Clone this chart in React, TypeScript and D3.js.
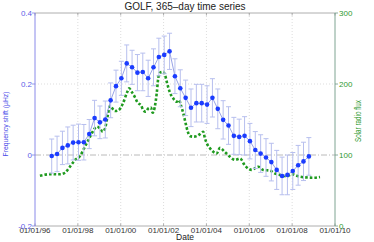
import React from 'react';
import * as d3 from 'd3';

// GOLF frequency shift, 365-day windows (decimal year of window centre)
const golfDates = [
  1996.78, 1997.03, 1997.28, 1997.53, 1997.78, 1998.03, 1998.28, 1998.53, 1998.78, 1999.03,
  1999.28, 1999.53, 1999.78, 2000.03, 2000.28, 2000.53, 2000.78, 2001.03, 2001.28, 2001.53,
  2001.78, 2002.03, 2002.28, 2002.53, 2002.78, 2003.03, 2003.28, 2003.53, 2003.78, 2004.03,
  2004.28, 2004.53, 2004.78, 2005.03, 2005.28, 2005.53, 2005.78, 2006.03, 2006.28, 2006.53,
  2006.78, 2007.03, 2007.28, 2007.53, 2007.78, 2008.03, 2008.28, 2008.53, 2008.78,
];
const freqShift = [
  -0.003, 0.003, 0.02, 0.027, 0.035, 0.036, 0.036, 0.059, 0.104, 0.092,
  0.1, 0.154, 0.194, 0.216, 0.258, 0.247, 0.232, 0.234, 0.216, 0.247,
  0.276, 0.282, 0.292, 0.222, 0.188, 0.161, 0.133, 0.146, 0.146, 0.142,
  0.161, 0.13, 0.099, 0.083, 0.054, 0.051, 0.054, 0.039, 0.014, 0.004,
  -0.007, -0.02, -0.042, -0.059, -0.056, -0.045, -0.029, -0.018, -0.004,
];
const freqErr = [
  0.048, 0.05, 0.047, 0.052, 0.049, 0.051, 0.05, 0.041, 0.05, 0.046,
  0.052, 0.049, 0.045, 0.048, 0.052, 0.048, 0.051, 0.053, 0.051, 0.052,
  0.053, 0.053, 0.051, 0.049, 0.052, 0.05, 0.053, 0.053, 0.053, 0.053,
  0.054, 0.056, 0.054, 0.053, 0.052, 0.05, 0.054, 0.05, 0.052, 0.053,
  0.053, 0.053, 0.055, 0.053, 0.056, 0.052, 0.056, 0.054, 0.053,
];

// solar radio flux (smoothed)
const fluxDates = [
  1996.23, 1996.70, 1997.17, 1997.40, 1997.63, 1997.87, 1998.10, 1998.33, 1998.49, 1998.69,
  1998.88, 1999.03, 1999.16, 1999.27, 1999.37, 1999.50, 1999.73, 1999.89, 2000.09, 2000.31,
  2000.39, 2000.51, 2000.67, 2000.79, 2000.95, 2001.05, 2001.17, 2001.29, 2001.41, 2001.49,
  2001.68, 2001.75, 2001.83, 2001.99, 2002.07, 2002.15, 2002.30, 2002.45, 2002.61, 2002.72,
  2002.81, 2002.92, 2003.03, 2003.13, 2003.23, 2003.39, 2003.55, 2003.70, 2003.85, 2003.93,
  2004.06, 2004.17, 2004.32, 2004.48, 2004.63, 2004.87, 2005.10, 2005.33, 2005.57, 2005.80,
  2006.11, 2006.42, 2006.65, 2006.97, 2007.20, 2007.43, 2007.75, 2007.98, 2008.29, 2008.60,
  2008.99, 2009.30,
];
const fluxValues = [
  70.8, 73, 72.8, 75, 83.5, 93, 98.6, 111.7, 121, 132.8,
  139.8, 137.5, 132.8, 137.5, 151.6, 169, 162, 163, 171.8, 189,
  193.8, 189, 181, 173.7, 170, 163, 161, 165.7, 167, 159.5,
  186.8, 208, 216, 217, 212.6, 203, 187.7, 179.8, 175, 177.4,
  170, 158.7, 144.6, 132.8, 126.7, 125.8, 126.7, 129.5, 132.8, 123.5,
  114, 109.4, 104.6, 102.3, 110, 104, 97.6, 93, 95, 85,
  79, 83.5, 79, 78, 74, 72, 70, 73, 70, 68.5,
  68, 69,
];

const xTickYears = [1996, 1998, 2000, 2002, 2004, 2006, 2008, 2010];
const leftTicks = [-0.2, 0, 0.2, 0.4];
const rightTicks = [0, 100, 200, 300];

const W = 374, H = 242;
const margin = { top: 13, right: 39, bottom: 16, left: 35 };
const font = 'Liberation Sans, Arial, Helvetica, sans-serif';

export default function App() {
  const x = d3.scaleLinear().domain([1996, 2010]).range([margin.left, W - margin.right]);
  const yL = d3.scaleLinear().domain([-0.2, 0.4]).range([H - margin.bottom, margin.top]);
  const yR = d3.scaleLinear().domain([0, 300]).range([H - margin.bottom, margin.top]);
  const x0 = margin.left, x1 = W - margin.right, y0 = margin.top, y1 = H - margin.bottom;

  const golf = golfDates.map((d, i) => ({ d, v: freqShift[i], e: freqErr[i] }));
  const flux = fluxDates.map((d, i) => ({ d, v: fluxValues[i] }));

  const golfLine = d3.line<any>().x(p => x(p.d)).y(p => yL(p.v));
  const fluxLine = d3.line<any>().x(p => x(p.d)).y(p => yR(p.v)).curve(d3.curveMonotoneX);

  const fmt = (yr: number) => '01/01/' + String(yr).slice(2);

  return (
    <svg width={W} height={H} style={{ position: 'absolute', left: 0, top: 0, background: '#fff' }}
      fontFamily={font}>
      {/* grid */}
      {xTickYears.slice(1, -1).map(t => (
        <line key={'gx' + t} x1={x(t)} x2={x(t)} y1={y0} y2={y1}
          stroke="#d4d4d4" strokeWidth={0.8} strokeDasharray="1,2" />
      ))}
      <line x1={x0} x2={x1} y1={yL(0.2)} y2={yL(0.2)} stroke="#d4d4d4" strokeWidth={0.8} strokeDasharray="1,2" />
      <line x1={x0} x2={x1} y1={yL(0)} y2={yL(0)} stroke="#a8a8a8" strokeWidth={0.8} strokeDasharray="6,2,1,2" />

      {/* box */}
      <line x1={x0} x2={x1} y1={y0} y2={y0} stroke="#9a9a9a" strokeWidth={0.8} />
      <line x1={x0} x2={x1} y1={y1} y2={y1} stroke="#9a9a9a" strokeWidth={0.8} />
      {xTickYears.map(t => (
        <g key={'tx' + t}>
          <line x1={x(t)} x2={x(t)} y1={y0} y2={y0 + 2.5} stroke="#9a9a9a" strokeWidth={0.8} />
          <line x1={x(t)} x2={x(t)} y1={y1} y2={y1 - 2.5} stroke="#9a9a9a" strokeWidth={0.8} />
          <text x={x(t)} y={y1 + 6.5} fontSize={8} fill="#333" textAnchor="middle">{fmt(t)}</text>
        </g>
      ))}

      {/* solar radio flux */}
      <path d={fluxLine(flux) || ''} fill="none" stroke="#1f9a1f" strokeWidth={2.6} strokeDasharray="2.6,2" />

      {/* GOLF frequency shift */}
      {golf.map((p, i) => (
        <g key={'eb' + i} stroke="#b7bfee" strokeWidth={1}>
          <line x1={x(p.d)} x2={x(p.d)} y1={yL(p.v - p.e)} y2={yL(p.v + p.e)} />
          <line x1={x(p.d) - 2.5} x2={x(p.d) + 2.5} y1={yL(p.v - p.e)} y2={yL(p.v - p.e)} />
          <line x1={x(p.d) - 2.5} x2={x(p.d) + 2.5} y1={yL(p.v + p.e)} y2={yL(p.v + p.e)} />
        </g>
      ))}
      <path d={golfLine(golf) || ''} fill="none" stroke="#98a3e6" strokeWidth={1} />
      {golf.map((p, i) => (
        <circle key={'pt' + i} cx={x(p.d)} cy={yL(p.v)} r={2.3} fill="#1b3cff" />
      ))}

      {/* left axis */}
      <line x1={x0} x2={x0} y1={y0} y2={y1} stroke="#7d7de6" strokeWidth={0.9} />
      {leftTicks.map(t => (
        <g key={'ly' + t}>
          <line x1={x0 - 3} x2={x0} y1={yL(t)} y2={yL(t)} stroke="#7d7de6" strokeWidth={0.8} />
          <text x={x0 - 3} y={yL(t) + 2.8} fontSize={8} fill="#5c5ce8" textAnchor="end">{t}</text>
        </g>
      ))}
      <text transform="translate(8,124) rotate(-90)" fontSize={8} fill="#4a4ae8" textAnchor="middle"
        textLength={65} lengthAdjust="spacingAndGlyphs">Frequency shift (µHz)</text>

      {/* right axis */}
      <line x1={x1} x2={x1} y1={y0} y2={y1} stroke="#6f9a86" strokeWidth={0.9} />
      {rightTicks.map(t => (
        <g key={'ry' + t}>
          <line x1={x1} x2={x1 + 3} y1={yR(t)} y2={yR(t)} stroke="#6f9a86" strokeWidth={0.8} />
          <text x={x1 + 4} y={yR(t) + 2.8} fontSize={8} fill="#2f9a2f">{t}</text>
        </g>
      ))}
      <text transform="translate(361,121) rotate(-90)" fontSize={8.5} fill="#2f9a2f" textAnchor="middle"
        textLength={42} lengthAdjust="spacingAndGlyphs">Solar radio flux</text>

      {/* titles */}
      <text x={(x0 + x1) / 2} y={10} fontSize={10} fill="#222" textAnchor="middle">GOLF, 365–day time series</text>
      <text x={(x0 + x1) / 2} y={239.5} fontSize={8.5} fill="#222" textAnchor="middle">Date</text>
    </svg>
  );
}
